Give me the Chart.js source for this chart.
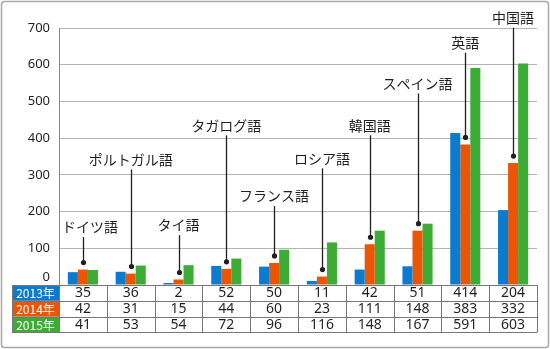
<!DOCTYPE html>
<html>
<head>
<meta charset="utf-8">
<script src="https://cdn.jsdelivr.net/npm/chart.js@4/dist/chart.umd.min.js"></script>
<style>
  html, body { margin: 0; padding: 0; background: #fff; }
  #wrap { width: 550px; height: 349px; position: relative; }
</style>
</head>
<body>
<div id="wrap"><canvas id="langChart" width="550" height="349"></canvas></div>
<script>
var languages = ["ドイツ語", "ポルトガル語", "タイ語", "タガログ語", "フランス語", "ロシア語", "韓国語", "スペイン語", "英語", "中国語"];
var years = ["2013年", "2014年", "2015年"];
var y2013 = [35, 36, 2, 52, 50, 11, 42, 51, 414, 204];
var y2014 = [42, 31, 15, 44, 60, 23, 111, 148, 383, 332];
var y2015 = [41, 53, 54, 72, 96, 116, 148, 167, 591, 603];
var yTicks = [0, 100, 200, 300, 400, 500, 600, 700];

// height (in axis units) where each language name sits
var calloutAt = [158, 342, 163, 435, 242, 345, 435, 549, 660, 728];

var colors = ['#0a7bcf', '#ea5506', '#3cac35'];
var jpFont = '"Noto Sans CJK JP", "Noto Sans", sans-serif';
var numFont = '"Noto Sans", sans-serif';

// language names with a leader line down to the 2014 bar
var callouts = {
  id: 'callouts',
  afterDatasetsDraw: function(chart) {
    var ctx = chart.ctx;
    var meta = chart.getDatasetMeta(1);
    var yScale = chart.scales.y;
    var area = chart.chartArea;
    ctx.save();
    ctx.font = '14px ' + jpFont;
    ctx.textAlign = 'center';
    ctx.textBaseline = 'middle';
    meta.data.forEach(function(bar, i) {
      var x = Math.round(bar.x) + 0.5;
      var ty = yScale.getPixelForValue(calloutAt[i]);
      var dotY = bar.y - 7;
      var half = ctx.measureText(languages[i]).width / 2;
      var tx = Math.max(bar.x, area.left + half + 3);
      ctx.fillStyle = '#231f20';
      ctx.fillText(languages[i], tx, ty);
      ctx.strokeStyle = '#231f20';
      ctx.lineWidth = 1.3;
      ctx.beginPath();
      ctx.moveTo(x, ty + 10);
      ctx.lineTo(x, dotY);
      ctx.stroke();
      ctx.beginPath();
      ctx.arc(x, dotY, 2.6, 0, Math.PI * 2);
      ctx.fill();
    });
    ctx.restore();
  }
};

// data table under the plot plus the outer frame
var dataTable = {
  id: 'dataTable',
  afterDraw: function(chart) {
    var ctx = chart.ctx;
    var area = chart.chartArea;
    var xs = chart.scales.x;
    var colW = (area.right - area.left) / languages.length;
    var rowH = 15.8;
    var top = area.bottom;
    var left = 12;
    var rows = [y2013, y2014, y2015];
    ctx.save();

    // zero label sits just above the table
    ctx.fillStyle = '#231f20';
    ctx.font = '13px ' + numFont;
    ctx.textAlign = 'right';
    ctx.textBaseline = 'middle';
    ctx.fillText('0', area.left - 9, top - 8);

    rows.forEach(function(vals, r) {
      var y = top + r * rowH;
      ctx.fillStyle = colors[r];
      ctx.fillRect(left, y, area.left - left, rowH);
      ctx.fillStyle = '#fff';
      ctx.font = '12px ' + jpFont;
      ctx.textAlign = 'center';
      ctx.textBaseline = 'middle';
      ctx.fillText(years[r], (left + area.left) / 2, y + rowH / 2 + 0.5);
      ctx.fillStyle = '#231f20';
      ctx.font = '14px ' + numFont;
      vals.forEach(function(v, i) {
        ctx.fillText(String(v), xs.getPixelForValue(i), y + rowH / 2 + 0.5);
      });
    });
    ctx.strokeStyle = '#777';
    ctx.lineWidth = 1;
    ctx.beginPath();
    for (var r = 0; r <= rows.length; r++) {
      var yy = Math.round(top + r * rowH) + 0.5;
      ctx.moveTo(left, yy);
      ctx.lineTo(area.right, yy);
    }
    var bottom = top + rows.length * rowH;
    ctx.moveTo(left + 0.5, top);
    ctx.lineTo(left + 0.5, bottom);
    for (var c = 0; c <= languages.length; c++) {
      var xx = Math.round(area.left + c * colW) + 0.5;
      ctx.moveTo(xx, top);
      ctx.lineTo(xx, bottom);
    }
    ctx.stroke();

    ctx.strokeStyle = '#a8a8a8';
    ctx.lineWidth = 1.5;
    ctx.beginPath();
    ctx.roundRect(1.5, 1.5, chart.width - 3, chart.height - 3, 3);
    ctx.stroke();
    ctx.restore();
  }
};

new Chart(document.getElementById('langChart'), {
  type: 'bar',
  data: {
    labels: languages,
    datasets: [
      { label: years[0], data: y2013, backgroundColor: colors[0] },
      { label: years[1], data: y2014, backgroundColor: colors[1] },
      { label: years[2], data: y2015, backgroundColor: colors[2] }
    ]
  },
  options: {
    responsive: false,
    animation: false,
    layout: { padding: { left: 0, right: 13, top: 28, bottom: 64 } },
    datasets: { bar: { categoryPercentage: 0.63, barPercentage: 1.0, minBarLength: 2 } },
    plugins: { legend: { display: false }, tooltip: { enabled: false } },
    scales: {
      x: { display: false },
      y: {
        min: 0,
        max: 700,
        afterBuildTicks: function(s) { s.ticks = yTicks.map(function(v) { return { value: v }; }); },
        afterFit: function(s) { s.width = 59; },
        grid: { color: '#b4b4b4', drawTicks: false, lineWidth: 1 },
        border: { display: true, color: '#8a8a8a', width: 1 },
        ticks: {
          padding: 9,
          color: '#231f20',
          font: { family: numFont, size: 13 },
          callback: function(v) { return v === 0 ? '' : v; }
        }
      }
    }
  },
  plugins: [callouts, dataTable]
});
</script>
</body>
</html>
